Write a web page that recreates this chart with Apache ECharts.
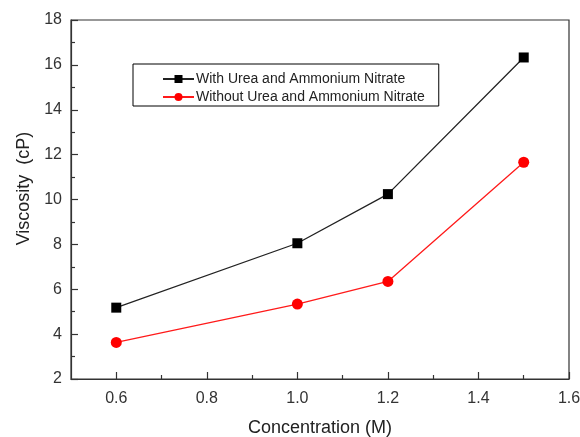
<!DOCTYPE html>
<html>
<head>
<meta charset="utf-8">
<script src="https://cdn.jsdelivr.net/npm/echarts@6/dist/echarts.min.js"></script>
<style>
  html, body { margin: 0; padding: 0; background: #fff; }
  #chart { width: 580px; height: 437px; }
</style>
</head>
<body>
<div id="chart"></div>
<script>
const concentration = [0.6, 1.0, 1.2, 1.5];
const withUrea = [5.18, 8.05, 10.24, 16.33];
const withoutUrea = [3.63, 5.34, 6.35, 11.66];
const xMajorTicks = [0.6, 0.8, 1.0, 1.2, 1.4, 1.6];
const xMinorTicks = [0.7, 0.9, 1.1, 1.3, 1.5];

const font = 'Liberation Sans, Arial, sans-serif';
const axisColor = '#333';

const myChart = echarts.init(document.getElementById('chart'));

const option = {
  animation: false,
  grid: {
    left: 71, right: 11, top: 20, bottom: 58,
    outerBoundsMode: 'none',
    show: true, borderColor: axisColor, borderWidth: 1.2
  },
  legend: {
    orient: 'vertical',
    left: 133,
    top: 64,
    padding: [8, 14, 2, 29],
    itemGap: 4,
    itemWidth: 31,
    itemHeight: 10,
    borderColor: '#000',
    borderWidth: 1,
    textStyle: { fontFamily: font, fontSize: 14, color: '#222', padding: [0, 0, 0, -3] },
    data: ['With Urea and Ammonium Nitrate', 'Without Urea and Ammonium Nitrate']
  },
  xAxis: [
    {
      type: 'value',
      min: 0.5,
      max: 1.6,
      position: 'bottom',
      name: 'Concentration (M)',
      nameLocation: 'middle',
      nameGap: 40,
      nameTextStyle: { fontFamily: font, fontSize: 18, color: '#222' },
      splitLine: { show: false },
      axisLine: { lineStyle: { color: axisColor, width: 1.2 } },
      axisTick: { inside: true, length: 7, customValues: xMajorTicks, lineStyle: { color: axisColor, width: 1.2 } },
      axisLabel: {
        customValues: xMajorTicks,
        margin: 12,
        fontFamily: font, fontSize: 16, color: '#333',
        formatter: v => v.toFixed(1)
      }
    },
    {
      type: 'value',
      min: 0.5,
      max: 1.6,
      position: 'bottom',
      splitLine: { show: false },
      axisLine: { show: false },
      axisTick: { inside: true, length: 4, customValues: xMinorTicks, lineStyle: { color: axisColor, width: 1.2 } },
      axisLabel: { show: false }
    }
  ],
  yAxis: {
    type: 'value',
    min: 2,
    max: 18,
    interval: 2,
    name: 'Viscosity  (cP)',
    nameLocation: 'middle',
    nameGap: 37,
    nameTextStyle: { fontFamily: font, fontSize: 18, color: '#222', padding: [0, 0, 0, 22] },
    splitLine: { show: false },
    axisLine: { lineStyle: { color: axisColor, width: 1.2 } },
    axisTick: { inside: true, length: 7, lineStyle: { color: axisColor, width: 1.2 } },
    minorTick: { show: true, splitNumber: 2, length: 4, lineStyle: { color: axisColor, width: 1.2 } },
    axisLabel: { margin: 9, fontFamily: font, fontSize: 16, color: '#333' }
  },
  series: [
    {
      name: 'With Urea and Ammonium Nitrate',
      type: 'line',
      data: concentration.map((x, i) => [x, withUrea[i]]),
      symbol: 'rect',
      symbolSize: 10,
      lineStyle: { color: '#222', width: 1.3 },
      itemStyle: { color: '#000' }
    },
    {
      name: 'Without Urea and Ammonium Nitrate',
      type: 'line',
      data: concentration.map((x, i) => [x, withoutUrea[i]]),
      symbol: 'circle',
      symbolSize: 11,
      lineStyle: { color: '#ff1a1a', width: 1.3 },
      itemStyle: { color: '#ff0000' }
    }
  ]
};

myChart.setOption(option);
</script>
</body>
</html>
